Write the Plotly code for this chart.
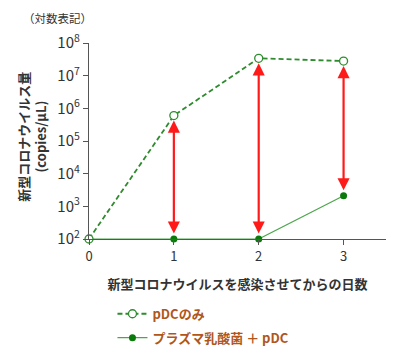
import plotly.graph_objects as go
import math

days = [0, 1, 2, 3]
pdc_only = [1e2, 6e5, 3.4e7, 2.8e7]
plasma_pdc = [1e2, 1e2, 1e2, 2.1e3]
ytick_vals = [1e2, 1e3, 1e4, 1e5, 1e6, 1e7, 1e8]
ytick_text = ["10<sup>2</sup>", "10<sup>3</sup>", "10<sup>4</sup>", "10<sup>5</sup>",
              "10<sup>6</sup>", "10<sup>7</sup>", "10<sup>8</sup>"]
xtick_vals = [0, 1, 2, 3]
arrow_days = [1, 2, 3]

FONT = "Noto Sans CJK JP, Noto Sans, sans-serif"
TXT = "#333333"
BROWN = "#b0561c"

fig = go.Figure()
fig.add_trace(go.Scatter(
    x=days, y=plasma_pdc, mode="lines+markers", name="プラズマ乳酸菌 ＋ pDC", legendgroup="b",
    legendrank=2,
    line=dict(color="#4ca64c", width=1.2),
    marker=dict(symbol="circle", size=7, color="#0a7a0a"),
    cliponaxis=False,
))
fig.add_trace(go.Scatter(
    x=days, y=pdc_only, mode="lines+markers", name="pDCのみ", legendgroup="a",
    legendrank=1,
    line=dict(color="#2e8b2e", width=1.8, dash="5px,3px"),
    marker=dict(symbol="circle", size=8, color="white", line=dict(width=1.3, color="#2e8b2e")),
    cliponaxis=False,
))

for d in arrow_days:
    i = days.index(d)
    fig.add_annotation(
        x=d, y=math.log10(pdc_only[i]), ax=d, ay=math.log10(plasma_pdc[i]),
        xref="x", yref="y", axref="x", ayref="y",
        showarrow=True, arrowhead=2, arrowside="end+start", arrowsize=1.1,
        arrowwidth=2.2, arrowcolor="#ff1a1a", standoff=5, startstandoff=4, text="",
    )

fig.add_annotation(text="（対数表記）", xref="paper", yref="paper", x=-0.105, y=1.128,
                   showarrow=False, font=dict(family=FONT, size=11.5, color=TXT),
                   xanchor="center", yanchor="middle")
fig.add_annotation(text="<b>新型コロナウイルス量</b><br><b>(copies/μL)</b>", xref="paper", yref="paper",
                   x=-0.19, y=0.52, textangle=-90, showarrow=False,
                   font=dict(family=FONT, size=13, color=TXT), xanchor="center", yanchor="middle")

fig.update_layout(
    width=392, height=349,
    margin=dict(l=81, r=14, t=35, b=118, autoexpand=False),
    plot_bgcolor="white", paper_bgcolor="white",
    font=dict(family=FONT, size=13, color=TXT),
    showlegend=True,
    legend=dict(x=0.079, y=-0.305, xanchor="left", yanchor="top",
                font=dict(family=FONT, size=13, color=BROWN, weight="bold"),
                bgcolor="rgba(0,0,0,0)", tracegroupgap=4),
    xaxis=dict(range=[0, 3.5], tickvals=xtick_vals, ticks="outside", ticklen=5,
               showline=True, linecolor="#555555", linewidth=1.3, tickcolor="#555555",
               showgrid=False, zeroline=False, automargin=False,
               tickfont=dict(family=FONT, size=13, color=TXT),
               title=dict(text="<b>新型コロナウイルスを感染させてからの日数</b>", standoff=16,
                          font=dict(family=FONT, size=13, color=TXT))),
    yaxis=dict(type="log", range=[2, 8], tickvals=ytick_vals, ticktext=ytick_text,
               ticks="outside", ticklen=5, showline=True, linecolor="#555555", linewidth=1.3,
               tickcolor="#555555", showgrid=False, zeroline=False, automargin=False,
               tickfont=dict(family=FONT, size=15, color=TXT)),
)

fig.write_html("out.html")
